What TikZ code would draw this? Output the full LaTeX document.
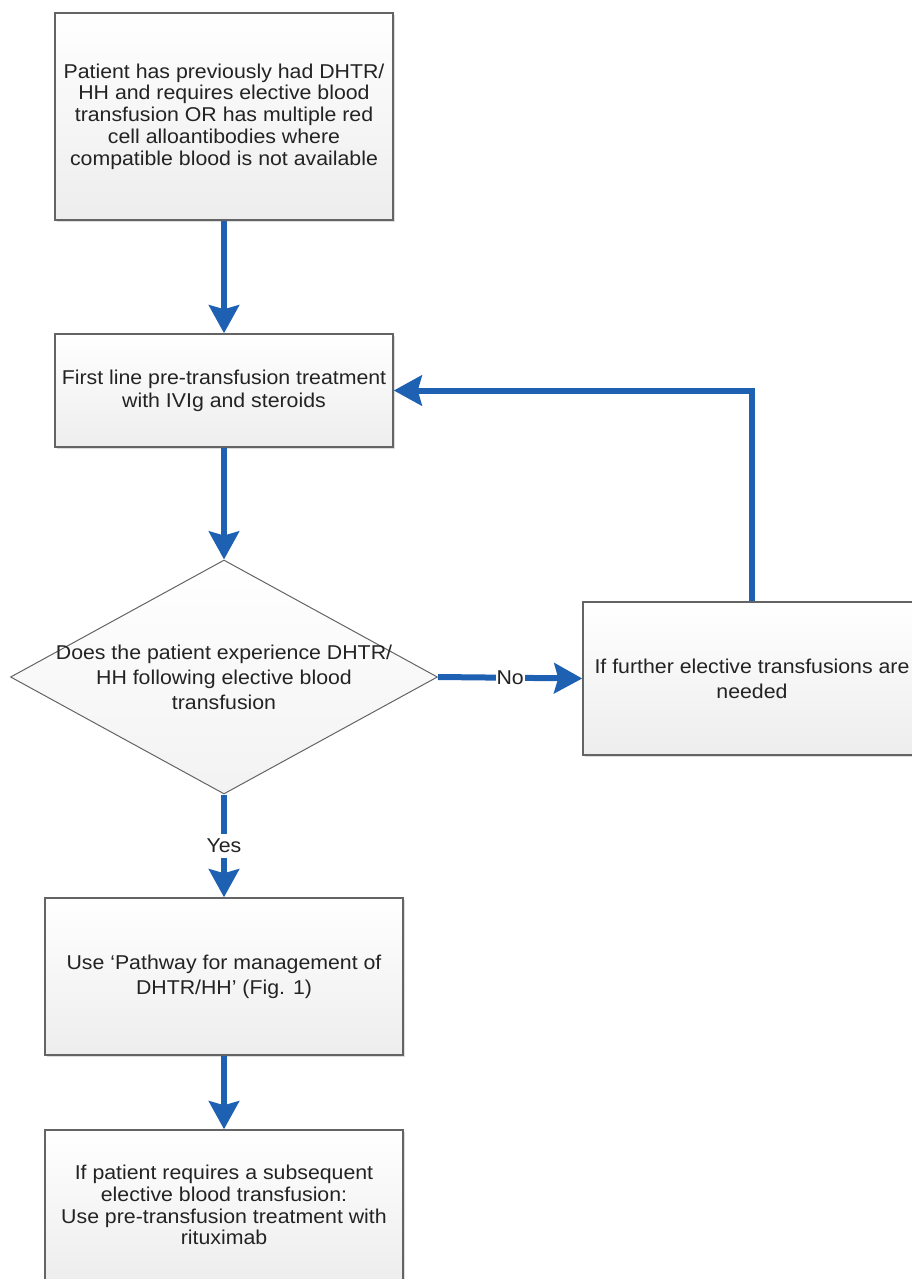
\documentclass[tikz,border=0pt]{standalone}
\usepackage{fontspec}
\setmainfont{Liberation Sans}[FakeStretch=1.065]
\usetikzlibrary{shapes.geometric,arrows.meta,shadows}
\definecolor{flowblue}{RGB}{30,96,178}
\definecolor{boxline}{RGB}{100,100,100}
\definecolor{txt}{RGB}{35,35,35}
\begin{document}
\begin{tikzpicture}[x=1pt,y=-1pt,
  box/.style={draw=boxline, line width=1.5pt, rectangle, top color=white, bottom color=gray!14,
    drop shadow={shadow xshift=2pt, shadow yshift=-2pt, fill=gray!45, opacity=.6},
    align=center, text=txt, inner sep=0pt},
  decshape/.style={draw=boxline, line width=1pt, diamond, top color=white, bottom color=gray!10, inner sep=0pt},
  plaintext/.style={align=center, text=txt, inner sep=0pt},
  flow/.style={draw=flowblue, line width=6pt, -{Stealth[width=30pt,length=28pt,inset=4pt]}},
  lbl/.style={fill=white, text=txt, font=\fontsize{20}{22}\selectfont, inner xsep=1pt, inner ysep=5pt}
]
\useasboundingbox (0,0) rectangle (912,1279);
\clip (0,0) rectangle (912,1279);

\node[box, minimum width=338pt, minimum height=207pt, font=\fontsize{20}{21.7}\selectfont] (start) at (224,116.5)
  {Patient has previously had DHTR/\\HH and requires elective blood\\transfusion OR has multiple red\\cell alloantibodies where\\compatible blood is not available};

\node[box, minimum width=338pt, minimum height=113pt, font=\fontsize{20}{23}\selectfont] (firstline) at (224,390.5)
  {First line pre-transfusion treatment\\with IVIg and steroids};

\node[decshape, minimum width=427pt, minimum height=234pt] (decide) at (224,677) {};
\node[plaintext, font=\fontsize{20}{25}\selectfont] (decidetext) at (224,677)
  {Does the patient experience DHTR/\\HH following elective blood\\transfusion};

\node[box, minimum width=338pt, minimum height=153pt, font=\fontsize{20}{25}\selectfont] (further) at (752,678.5)
  {If further elective transfusions are\\needed};

\node[box, minimum width=358pt, minimum height=157pt, font=\fontsize{20}{25}\selectfont] (pathway) at (224,976.5)
  {Use ‘Pathway for management of\\DHTR/HH’ (Fig. 1)};

\node[box, minimum width=358pt, minimum height=150pt, font=\fontsize{20}{21.7}\selectfont] (ritux) at (224,1205)
  {If patient requires a subsequent\\elective blood transfusion:\\Use pre-transfusion treatment with\\rituximab};

\draw[flow] (start.south) -- (firstline.north);
\draw[flow] (firstline.south) -- (decide.north);
\draw[flow] (decide.east) -- node[lbl, inner ysep=1pt] (nolbl) {No} (further.west);
\draw[flow] (further.north) |- (firstline.east);
\draw[flow] (decide.south) -- node[lbl] (yeslbl) {Yes} (pathway.north);
\draw[flow] (pathway.south) -- (ritux.north);
\end{tikzpicture}
\end{document}
